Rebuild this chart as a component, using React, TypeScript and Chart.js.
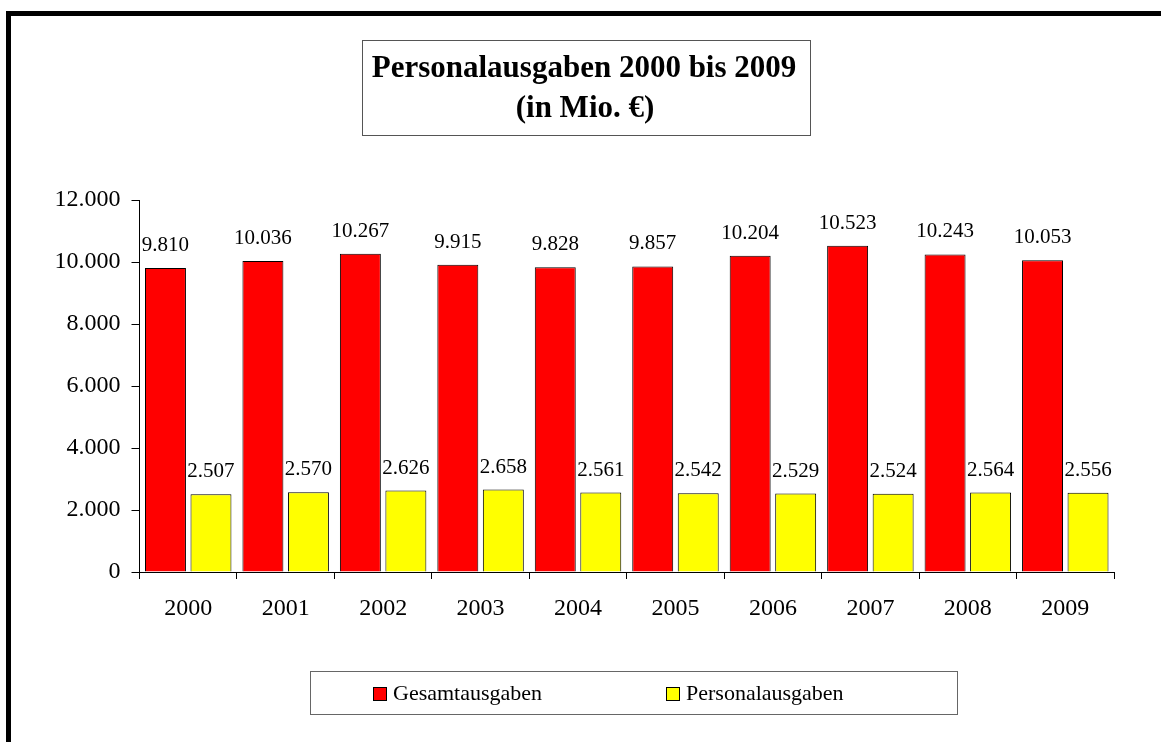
import React, { useEffect, useRef } from "react";
import { Chart, registerables } from "chart.js";

Chart.register(...registerables);

const years = ["2000", "2001", "2002", "2003", "2004", "2005", "2006", "2007", "2008", "2009"];
const gesamtausgaben = [9810, 10036, 10267, 9915, 9828, 9857, 10204, 10523, 10243, 10053];
const personalausgaben = [2507, 2570, 2626, 2658, 2561, 2542, 2529, 2524, 2564, 2556];
const yMin = 0;
const yMax = 12000;
const yStep = 2000;
const titleLines = ["Personalausgaben 2000 bis 2009", "(in Mio. €)"];
const seriesNames = ["Gesamtausgaben", "Personalausgaben"];
const seriesColors = ["#FF0000", "#FFFF00"];

const SERIF = '"Liberation Serif", "Times New Roman", serif';

function fmt(v: number): string {
  return String(Math.round(v)).replace(/\B(?=(\d{3})+(?!\d))/g, ".");
}

const decorPlugin = {
  id: "decor",
  afterDatasetsDraw(chart: any) {
    const ctx = chart.ctx;
    ctx.save();
    ctx.fillStyle = "#000";
    ctx.font = `21px ${SERIF}`;
    ctx.textAlign = "center";
    ctx.textBaseline = "alphabetic";
    chart.data.datasets.forEach((ds: any, i: number) => {
      const meta = chart.getDatasetMeta(i);
      meta.data.forEach((el: any, j: number) => {
        ctx.fillText(fmt(ds.data[j]), el.x, el.y - 17);
      });
    });
    ctx.restore();
  },
  afterDraw(chart: any) {
    const ctx = chart.ctx;
    ctx.save();
    // outer frame
    ctx.strokeStyle = "#000";
    ctx.lineWidth = 5;
    ctx.strokeRect(8.5, 13.5, chart.width + 40, chart.height + 40);

    // title box
    ctx.lineWidth = 1;
    ctx.strokeStyle = "#555";
    ctx.strokeRect(362.5, 40.5, 448, 95);
    ctx.fillStyle = "#000";
    ctx.font = `bold 31px ${SERIF}`;
    ctx.textAlign = "center";
    ctx.textBaseline = "alphabetic";
    ctx.fillText(titleLines[0], 584, 77);
    ctx.fillText(titleLines[1], 585, 117);

    // legend box
    ctx.strokeStyle = "#666";
    ctx.strokeRect(310.5, 671.5, 647, 43);
    const itemX = [373.5, 666.5];
    ctx.font = `22px ${SERIF}`;
    ctx.textAlign = "left";
    ctx.textBaseline = "middle";
    seriesNames.forEach((name, i) => {
      ctx.fillStyle = seriesColors[i];
      ctx.fillRect(itemX[i], 687.5, 13, 13);
      ctx.strokeStyle = "#000";
      ctx.strokeRect(itemX[i], 687.5, 13, 13);
      ctx.fillStyle = "#000";
      ctx.fillText(name, itemX[i] + 19.5, 694);
    });
    ctx.restore();
  },
};

export default function App() {
  const ref = useRef<HTMLCanvasElement | null>(null);
  useEffect(() => {
    if (!ref.current) return;
    const chart = new Chart(ref.current, {
      type: "bar",
      data: {
        labels: years,
        datasets: [
          {
            label: seriesNames[0],
            data: gesamtausgaben,
            backgroundColor: seriesColors[0],
            borderColor: "#000",
            borderWidth: 1,
            categoryPercentage: 0.934,
            barPercentage: 0.9,
          },
          {
            label: seriesNames[1],
            data: personalausgaben,
            backgroundColor: seriesColors[1],
            borderColor: "#000",
            borderWidth: 1,
            categoryPercentage: 0.934,
            barPercentage: 0.9,
          },
        ],
      },
      options: {
        responsive: false,
        animation: false,
        devicePixelRatio: 1,
        layout: { padding: { left: 0, right: 47, top: 200, bottom: 124 } },
        plugins: {
          legend: { display: false },
          title: { display: false },
          tooltip: { enabled: false },
        },
        scales: {
          x: {
            offset: true,
            grid: { offset: true, drawOnChartArea: false, drawTicks: true, tickLength: 7, color: "#000" },
            border: { display: true, color: "#000", width: 1 },
            ticks: { color: "#000", font: { family: SERIF, size: 24 }, padding: 15, maxRotation: 0 },
            afterFit: (s: any) => { s.height = 46; },
          },
          y: {
            min: yMin,
            max: yMax,
            grid: { drawOnChartArea: false, drawTicks: true, tickLength: 8, color: "#000" },
            border: { display: true, color: "#000", width: 1 },
            ticks: {
              stepSize: yStep,
              color: "#000",
              font: { family: SERIF, size: 24 },
              padding: 11,
              callback: (v: any) => fmt(Number(v)),
            },
            afterFit: (s: any) => { s.width = 139.5; },
          },
        },
      },
      plugins: [decorPlugin],
    });
    return () => chart.destroy();
  }, []);
  return (
    <div style={{ position: "absolute", left: 0, top: 0, width: 1161, height: 742, background: "#fff" }}>
      <canvas ref={ref} width={1161} height={742} style={{ display: "block" }} />
    </div>
  );
}
